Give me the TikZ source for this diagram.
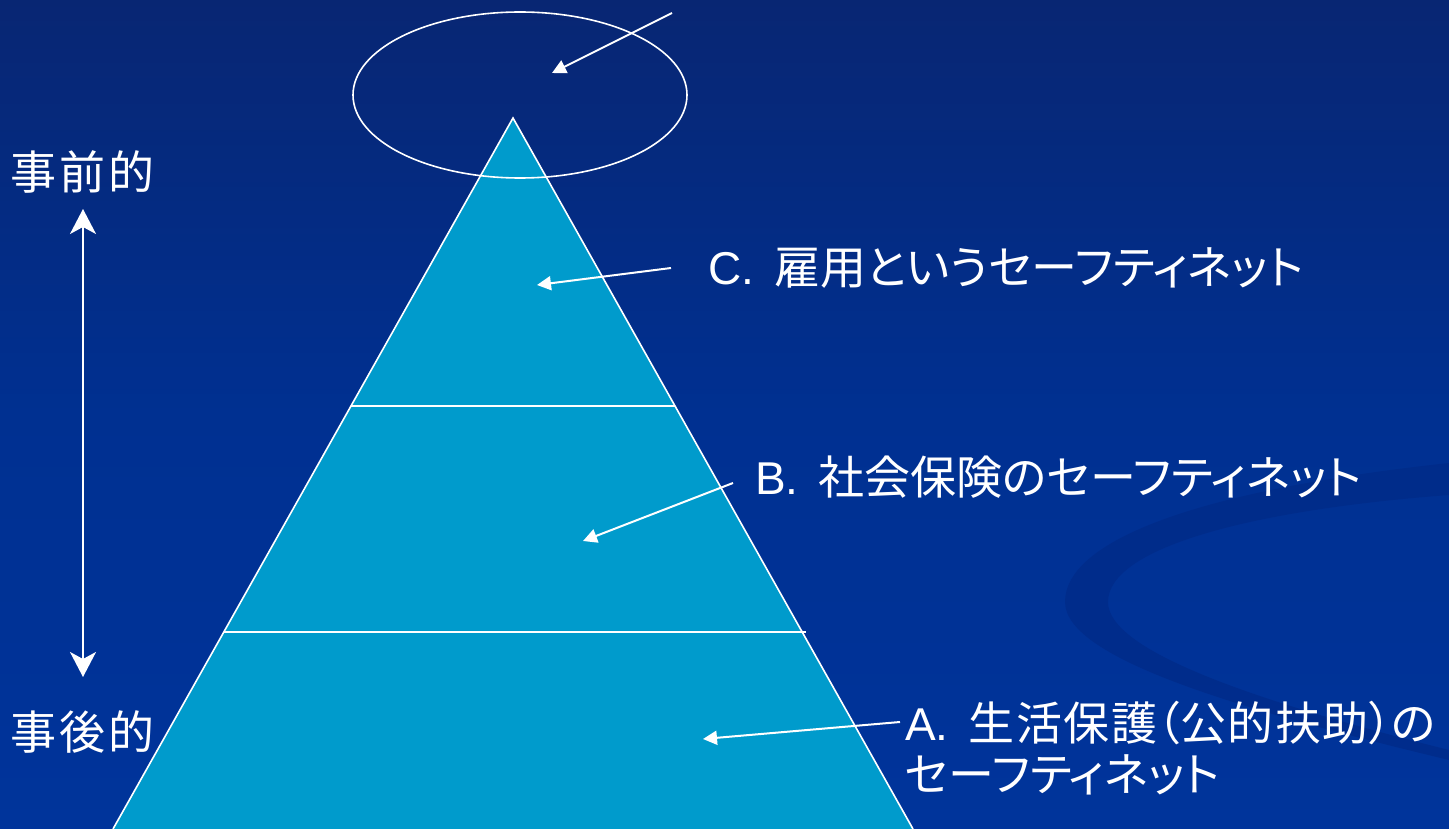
\documentclass[tikz,border=0pt]{standalone}
\usepackage{fontspec}
\setmainfont{Liberation Sans}
\newfontfamily\cjk[RawFeature=+palt]{Noto Sans CJK JP}
\usetikzlibrary{arrows.meta,calc}
\definecolor{bgtop}{RGB}{8,38,115}
\definecolor{bgmid}{RGB}{0,48,145}
\definecolor{bgbot}{RGB}{0,52,155}
\definecolor{pyr}{RGB}{0,155,204}
\definecolor{swoosh}{RGB}{0,42,135}
\tikzset{
  lab/.style={text=white, font=\fontsize{46}{54}\selectfont, inner sep=0pt, anchor=base west},
  wline/.style={draw=white, line width=1.6pt},
  ptr/.style={draw=white, line width=2pt, -{Triangle[length=14pt,width=14pt]}},
  dbl/.style={draw=white, line width=2pt, {Stealth[length=25pt,width=26pt,inset=7pt]}-{Stealth[length=25pt,width=26pt,inset=7pt]}}
}
\newcommand{\gapx}{\hspace{20pt}}
\newcommand{\ksp}{\hspace{3pt}}
\begin{document}
\begin{tikzpicture}[x=1pt,y=-1pt]
\useasboundingbox (0,0) rectangle (1449,829);
% background
\shade[top color=bgtop, bottom color=bgbot, middle color=bgmid] (0,0) rectangle (1449,829);
% decorative swoosh
\fill[swoosh, opacity=0.7] (1449,463) .. controls (1200,490) and (1065,540) .. (1065,602)
  .. controls (1065,660) and (1250,712) .. (1449,760)
  -- (1449,750) .. controls (1250,700) and (1108,650) .. (1108,602)
  .. controls (1108,548) and (1250,510) .. (1449,495) -- cycle;
% pyramid
\coordinate (apex) at (513,118);
\coordinate (bl) at (113,829);
\coordinate (br) at (913,829);
\fill[pyr] (apex) -- (bl) -- (br) -- cycle;
\draw[wline] (bl) -- (apex) -- (br);
\coordinate (l1) at ($(apex)!0.4051!(bl)$);
\coordinate (r1) at ($(apex)!0.4051!(br)$);
\coordinate (l2) at ($(apex)!0.7229!(bl)$);
\coordinate (r2) at ($(apex)!0.7229!(br)$);
\draw[wline] (l1) -- (r1);
\draw[wline] (l2) -- ($(r2)+(4,0)$);
% ellipse at top
\draw[white, line width=1.6pt] (520,95) ellipse [x radius=167, y radius=83];
% top arrow
\coordinate (topstart) at (672,13);
\coordinate (toptip) at (552,73);
\draw[ptr] (topstart) -- (toptip);
% labels
\node[lab] (pre) at (10,190) {\cjk 事\ksp 前\ksp 的};
\node[lab] (post) at (10,749) {\cjk 事\ksp 後\ksp 的};
\node[lab] (labC) at (708,284) {C.\gapx{\cjk 雇用というセーフティネット}};
\node[lab] (labB) at (755,494) {B.\gapx{\cjk 社会保険のセーフティネット}};
\node[lab] (labA) at (905,740) {A.\gapx{\cjk 生\hspace{1.5pt}活\hspace{1.5pt}保\hspace{1.5pt}護（公\hspace{1.5pt}的\hspace{1.5pt}扶\hspace{1.5pt}助）の}};
\node[lab] (labA2) at (905,791) {\cjk セーフティネット};
% double arrow
\coordinate (dtop) at (83,209);
\coordinate (dbot) at (83,677);
\draw[dbl] (dtop) -- (dbot);
% pointer arrows
\coordinate (cs) at (671,268);
\coordinate (ct) at (537,285);
\draw[ptr] (cs) -- (ct);
\coordinate (bs) at (733,483);
\coordinate (bt) at (583,541);
\draw[ptr] (bs) -- (bt);
\coordinate (as) at (900,722);
\coordinate (atip) at (703,739);
\draw[ptr] (as) -- (atip);
\end{tikzpicture}
\end{document}
